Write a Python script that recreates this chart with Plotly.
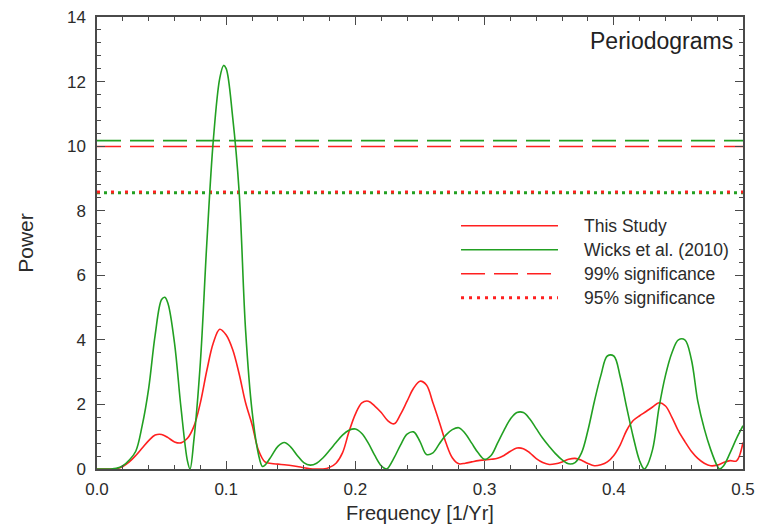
import plotly.graph_objects as go

# Periodograms sampled every 0.005 1/yr (plus the exact peaks and zero crossings)
freq_this = [0.000, 0.005, 0.010, 0.015, 0.020, 0.025, 0.030, 0.035, 0.040, 0.045,
             0.050, 0.055, 0.060, 0.065, 0.070, 0.075, 0.080, 0.085, 0.090, 0.095,
             0.100, 0.105, 0.110, 0.115, 0.120, 0.125, 0.130, 0.135, 0.140, 0.145,
             0.150, 0.155, 0.160, 0.165, 0.170, 0.175, 0.180, 0.185, 0.190, 0.195,
             0.200, 0.205, 0.210, 0.215, 0.220, 0.225, 0.230, 0.235, 0.240, 0.245,
             0.250, 0.255, 0.260, 0.265, 0.270, 0.275, 0.280, 0.285, 0.290, 0.295,
             0.300, 0.305, 0.310, 0.315, 0.320, 0.325, 0.330, 0.335, 0.340, 0.345,
             0.350, 0.355, 0.360, 0.365, 0.370, 0.375, 0.380, 0.385, 0.390, 0.395,
             0.400, 0.405, 0.410, 0.415, 0.420, 0.425, 0.430, 0.435, 0.440, 0.445,
             0.450, 0.455, 0.460, 0.465, 0.470, 0.475, 0.480, 0.485, 0.490, 0.495,
             0.500]
power_this = [0.00, 0.00, 0.00, 0.01, 0.08, 0.22, 0.42, 0.65, 0.88, 1.05,
              1.07, 0.97, 0.84, 0.81, 0.95, 1.32, 2.05, 3.05, 3.90, 4.33,
              4.15, 3.70, 2.95, 2.05, 1.38, 0.58, 0.22, 0.17, 0.15, 0.13,
              0.11, 0.08, 0.04, 0.01, 0.00, 0.00, 0.05, 0.18, 0.50, 1.15,
              1.70, 2.05, 2.10, 1.95, 1.75, 1.50, 1.40, 1.70, 2.10, 2.50,
              2.72, 2.60, 2.05, 1.45, 0.82, 0.35, 0.16, 0.18, 0.22, 0.26,
              0.28, 0.30, 0.33, 0.42, 0.55, 0.65, 0.63, 0.50, 0.32, 0.20,
              0.14, 0.16, 0.22, 0.30, 0.33, 0.27, 0.17, 0.10, 0.13, 0.22,
              0.42, 0.75, 1.20, 1.50, 1.65, 1.78, 1.92, 2.05, 1.95, 1.60,
              1.18, 0.85, 0.55, 0.33, 0.18, 0.10, 0.12, 0.20, 0.26, 0.25,
              0.82]

freq_wicks = [0.000, 0.005, 0.010, 0.015, 0.020, 0.025, 0.030, 0.035, 0.040, 0.045,
              0.050, 0.0525, 0.055, 0.060, 0.065, 0.070, 0.072, 0.075, 0.080, 0.085,
              0.090, 0.095, 0.098, 0.100, 0.105, 0.110, 0.115, 0.120, 0.125, 0.128,
              0.130, 0.135, 0.140, 0.145, 0.150, 0.155, 0.160, 0.165, 0.170, 0.175,
              0.180, 0.185, 0.190, 0.195, 0.200, 0.205, 0.210, 0.215, 0.220, 0.2237,
              0.225, 0.230, 0.235, 0.240, 0.245, 0.250, 0.255, 0.260, 0.265, 0.270,
              0.275, 0.280, 0.285, 0.290, 0.295, 0.300, 0.305, 0.310, 0.315, 0.320,
              0.325, 0.330, 0.335, 0.340, 0.345, 0.350, 0.355, 0.360, 0.365, 0.370,
              0.375, 0.380, 0.385, 0.390, 0.395, 0.400, 0.405, 0.410, 0.415, 0.420,
              0.4234, 0.425, 0.430, 0.435, 0.440, 0.445, 0.450, 0.455, 0.460, 0.465,
              0.470, 0.475, 0.480, 0.482, 0.485, 0.490, 0.495, 0.500]
power_wicks = [0.00, 0.00, 0.00, 0.02, 0.10, 0.28, 0.55, 1.35, 2.50, 4.15,
               5.25, 5.32, 5.12, 3.90, 1.90, 0.25, 0.00, 0.90, 3.30, 7.00,
               10.17, 12.10, 12.50, 12.40, 10.90, 8.60, 4.30, 1.80, 0.45, 0.08,
               0.12, 0.40, 0.70, 0.82, 0.68, 0.42, 0.20, 0.12, 0.18, 0.35,
               0.58, 0.82, 1.05, 1.20, 1.24, 1.10, 0.80, 0.42, 0.10, 0.00,
               0.02, 0.35, 0.75, 1.08, 1.15, 0.85, 0.45, 0.50, 0.78, 1.05,
               1.22, 1.28, 1.10, 0.80, 0.50, 0.30, 0.42, 0.80, 1.20, 1.55,
               1.75, 1.75, 1.55, 1.25, 0.95, 0.70, 0.47, 0.28, 0.16, 0.20,
               0.50, 1.20, 2.10, 2.90, 3.50, 3.50, 2.85, 1.90, 1.00, 0.25,
               0.00, 0.05, 0.60, 1.90, 2.90, 3.60, 4.00, 4.00, 3.40, 2.10,
               1.25, 0.60, 0.10, 0.00, 0.10, 0.50, 0.95, 1.34]

freq_span = [0.0, 0.5]
sig99_this, sig99_wicks = 9.99, 10.17
sig95_this, sig95_wicks = 8.58, 8.56

RED = "#ff2020"
GREEN = "#22a022"
TEXT = "#2b2b2b"
AXIS = "#4a4a4a"

fig = go.Figure()

# significance levels (the first one sits on the twin top/right axes, which share the scale)
fig.add_trace(go.Scatter(x=freq_span, y=[sig99_wicks] * 2, mode="lines", xaxis="x2", yaxis="y2",
                         line=dict(color=GREEN, width=1.6, dash="24px,9px"), hoverinfo="skip"))
fig.add_trace(go.Scatter(x=freq_span, y=[sig99_this] * 2, mode="lines",
                         line=dict(color=RED, width=1.6, dash="24px,9px"), hoverinfo="skip"))
fig.add_trace(go.Scatter(x=freq_span, y=[sig95_wicks] * 2, mode="lines",
                         line=dict(color=GREEN, width=3, dash="3px,4px"), hoverinfo="skip"))
fig.add_trace(go.Scatter(x=freq_span, y=[sig95_this] * 2, mode="lines",
                         line=dict(color=RED, width=3, dash="3px,11px"), hoverinfo="skip"))

# periodogram curves
fig.add_trace(go.Scatter(x=freq_this, y=power_this, mode="lines", name="This Study",
                         line=dict(color=RED, width=1.6, shape="spline", smoothing=1.0)))
fig.add_trace(go.Scatter(x=freq_wicks, y=power_wicks, mode="lines", name="Wicks et al. (2010)",
                         line=dict(color=GREEN, width=1.6, shape="spline", smoothing=1.0)))

tick_style = dict(ticks="inside", ticklen=8, tickwidth=1.3, tickcolor=AXIS)
frame = dict(showgrid=False, zeroline=False, showline=True, linecolor=AXIS, linewidth=1.5)
x_ticks = dict(range=[0, 0.5], tickvals=[0, 0.1, 0.2, 0.3, 0.4, 0.5],
               minor=dict(dtick=0.02, ticks="inside", ticklen=4, tickwidth=1.2, tickcolor=AXIS))
y_ticks = dict(range=[0, 14], dtick=2,
               minor=dict(dtick=0.4, ticks="inside", ticklen=4, tickwidth=1.2, tickcolor=AXIS))

layout_axes = dict(
    xaxis=dict(**frame, **tick_style, **x_ticks, mirror=True, tickformat=".1f",
               tickfont=dict(size=17, color=TEXT), ticklabelstandoff=4,
               title=dict(text="Frequency [1/Yr]", font=dict(size=20, color=TEXT), standoff=8)),
    yaxis=dict(**frame, **tick_style, **y_ticks, mirror=True,
               tickfont=dict(size=17, color=TEXT), ticklabelstandoff=6,
               title=dict(text="Power", font=dict(size=21, color=TEXT), standoff=28)),
    # tick marks repeated along the top and right edges of the frame
    xaxis2=dict(**frame, **tick_style, **x_ticks, overlaying="x", side="top",
                showticklabels=False),
    yaxis2=dict(**frame, **tick_style, **y_ticks, overlaying="y", side="right",
                showticklabels=False),
)

# hand-built legend in the lower right of the panel
legend_rows = [
    ("This Study", RED, 1.6, "solid"),
    ("Wicks et al. (2010)", GREEN, 1.6, "solid"),
    ("99% significance", RED, 1.6, "24px,9px"),
    ("95% significance", RED, 3, "3px,5px"),
]
shapes = []
annotations = []
row_y = [0.538, 0.485, 0.432, 0.379]
for (label, color, width, dash), yy in zip(legend_rows, row_y):
    shapes.append(dict(type="line", xref="paper", yref="paper", x0=0.5635, x1=0.7136,
                       y0=yy, y1=yy, line=dict(color=color, width=width, dash=dash)))
    annotations.append(dict(text=label, xref="paper", yref="paper", x=0.751, y=yy,
                            xanchor="left", yanchor="middle", showarrow=False,
                            font=dict(size=17.5, color=TEXT)))

annotations.append(dict(text="Periodograms", xref="paper", yref="paper", x=0.987, y=0.946,
                        xanchor="right", yanchor="middle", showarrow=False,
                        font=dict(size=23, color="#222222")))

fig.update_layout(
    width=757, height=528,
    margin=dict(l=97, r=14, t=17, b=59, autoexpand=False),
    plot_bgcolor="white", paper_bgcolor="white",
    font=dict(family="Liberation Sans, Arial, sans-serif", color=TEXT),
    showlegend=False, shapes=shapes, annotations=annotations,
    **layout_axes,
)

fig.write_html("out.html")
